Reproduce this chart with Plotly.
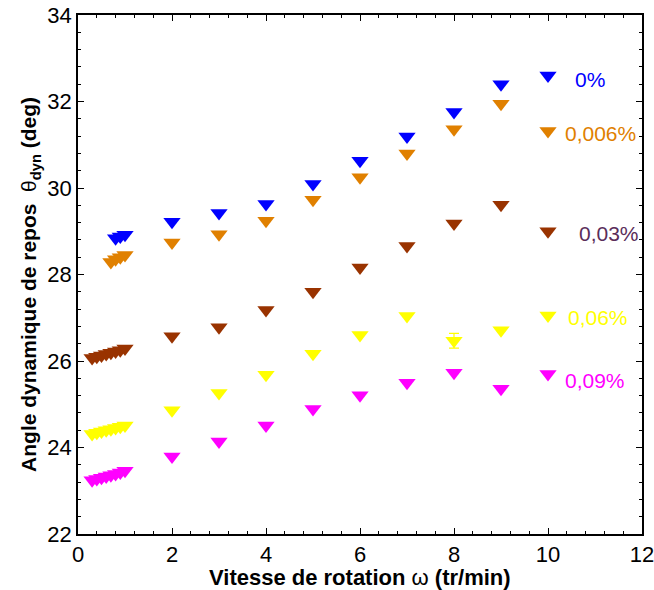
import plotly.graph_objects as go

# Angle dynamique de repos en fonction de la vitesse de rotation, pour 5 teneurs
SERIES_NAMES = ["0%", "0,006%", "0,03%", "0,06%", "0,09%"]
MARKER_COLORS = ["#0000ff", "#e08000", "#993300", "#ffff00", "#ff00ff"]
LABEL_COLORS = ["#0000ff", "#e08000", "#5a2d5a", "#ffff00", "#ff00ff"]

x_0 = [0.8, 0.9, 1.0, 2, 3, 4, 5, 6, 7, 8, 9]
y_0 = [28.84, 28.88, 28.92, 29.22, 29.42, 29.63, 30.09, 30.63, 31.19, 31.76, 32.4]

x_006 = [0.7, 0.8, 0.9, 1.0, 2, 3, 4, 5, 6, 7, 8, 9]
y_006 = [28.29, 28.35, 28.4, 28.45, 28.74, 28.93, 29.24, 29.73, 30.25, 30.8, 31.36, 31.95]

x_03 = [0.3, 0.4, 0.5, 0.6, 0.7, 0.8, 0.9, 1.0, 2, 3, 4, 5, 6, 7, 8, 9]
y_03 = [26.07, 26.1, 26.13, 26.16, 26.19, 26.22, 26.25, 26.29,
        26.57, 26.78, 27.18, 27.6, 28.16, 28.66, 29.18, 29.61]

x_06 = [0.3, 0.4, 0.5, 0.6, 0.7, 0.8, 0.9, 1.0, 2, 3, 4, 5, 6, 7, 8, 9]
y_06 = [24.31, 24.34, 24.37, 24.4, 24.42, 24.45, 24.48, 24.51,
        24.86, 25.26, 25.68, 26.17, 26.6, 27.04, 26.47, 26.71]
err_06 = [0, 0, 0, 0, 0, 0, 0, 0, 0, 0, 0, 0, 0, 0, 0.17, 0]

x_09 = [0.3, 0.4, 0.5, 0.6, 0.7, 0.8, 0.9, 1.0, 2, 3, 4, 5, 6, 7, 8, 9]
y_09 = [23.24, 23.27, 23.3, 23.33, 23.36, 23.39, 23.42, 23.46,
        23.79, 24.14, 24.51, 24.89, 25.21, 25.5, 25.73, 25.36]

# repères de légende placés à x = 10, avec leur étiquette à droite
legend_x = 10
legend_y = [32.6, 31.32, 29.0, 27.05, 25.7]
label_x = [10.53, 10.32, 10.62, 10.38, 10.32]
label_y = [32.52, 31.27, 28.94, 27.0, 25.54]

FONT = "Liberation Sans, Arial, Helvetica, sans-serif"

fig = go.Figure()
series = [(x_0, y_0, None), (x_006, y_006, None), (x_03, y_03, None),
          (x_06, y_06, err_06), (x_09, y_09, None)]
for (xs, ys, err), color, name in zip(series, MARKER_COLORS, SERIES_NAMES):
    fig.add_trace(go.Scatter(
        x=xs, y=ys, mode="markers", name=name, showlegend=False,
        marker=dict(symbol="triangle-down", size=15, color=color, line=dict(width=0)),
        error_y=dict(type="data", array=err, color=color, thickness=1.2, width=5,
                     visible=err is not None),
    ))

fig.add_trace(go.Scatter(
    x=[legend_x] * len(legend_y), y=legend_y, mode="markers", showlegend=False,
    marker=dict(symbol="triangle-down", size=15, color=MARKER_COLORS, line=dict(width=0)),
))

for name, lx, ly, color in zip(SERIES_NAMES, label_x, label_y, LABEL_COLORS):
    fig.add_annotation(x=lx, y=ly, text=name, showarrow=False, xanchor="left",
                       yanchor="middle", font=dict(family=FONT, size=21, color=color))

# titres des axes posés à la main (positions de la figure d'origine)
fig.add_annotation(
    text="<b>Vitesse de rotation</b> ω <b>(tr/min)</b>", xref="paper", yref="paper",
    x=0.5, y=-0.083, xanchor="center", yanchor="middle", showarrow=False,
    font=dict(family=FONT, size=22, color="black"),
)
fig.add_annotation(
    text="<b>Angle dynamique de repos</b>  θ<sub><b>dyn</b></sub> <b>(deg)</b>",
    xref="paper", yref="paper", x=-0.085, y=0.48, xanchor="center", yanchor="middle",
    textangle=-90, showarrow=False, font=dict(family=FONT, size=21, color="black"),
)

axis_common = dict(
    showgrid=False, zeroline=False, showline=True, linecolor="black", linewidth=1.5,
    mirror="allticks", ticks="inside", ticklen=6, tickwidth=1.2, tickcolor="black",
    tickfont=dict(family=FONT, size=22, color="black"), automargin=False,
    ticklabeloverflow="allow", ticklabelstandoff=0,
    minor=dict(ticks="inside", ticklen=3, tickwidth=1, tickcolor="black", dtick=0.4),
)

fig.update_xaxes(range=[0, 12], dtick=2, tick0=0, **axis_common)
fig.update_yaxes(range=[22, 34], dtick=2, tick0=22, **axis_common)

fig.update_layout(
    width=654, height=590,
    margin=dict(l=78, r=12, t=15, b=56),
    plot_bgcolor="white", paper_bgcolor="white",
)

# supprime la marge par défaut de la page pour que la figure tienne dans la fenêtre
fig.write_html("out.html", config={"displayModeBar": False},
               post_script="document.body.style.margin='0';"
                           "document.body.style.overflow='hidden';")
